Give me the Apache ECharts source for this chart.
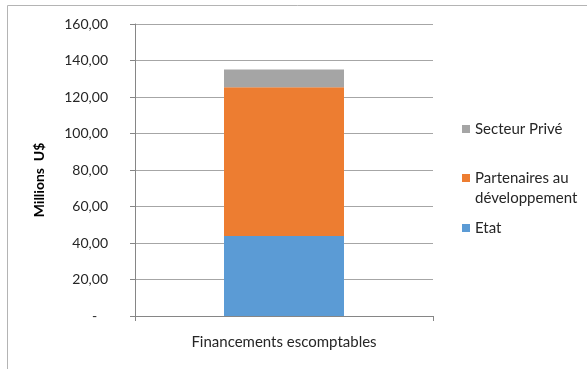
<!DOCTYPE html>
<html>
<head>
<meta charset="utf-8">
<script src="https://cdn.jsdelivr.net/npm/echarts@6/dist/echarts.min.js"></script>
<style>
  html, body { margin: 0; padding: 0; background: #ffffff; }
  #chart { width: 587px; height: 369px; }
</style>
</head>
<body>
<div id="chart"></div>
<script>
// Funding sources, in millions of US dollars
const categories = ['Financements escomptables'];
const etat = [43.8];
const partenaires = [81.5];
const secteurPrive = [9.8];
const yTicks = [0, 20, 40, 60, 80, 100, 120, 140, 160];

const FONT = 'Lato';
const TEXT = '#262626';

const chart = echarts.init(document.getElementById('chart'), null, { renderer: 'canvas' });

function fmtTick(v) {
  return v === 0 ? '-   ' : v.toFixed(2).replace('.', ',');
}

const legendBase = {
  orient: 'vertical',
  left: 457,
  itemWidth: 8,
  itemHeight: 8,
  itemGap: 0,
  icon: 'rect',
  selectedMode: false,
  textStyle: { fontFamily: FONT, fontSize: 15, color: TEXT, lineHeight: 20 }
};

chart.setOption({
  animation: false,
  color: ['#5B9BD5', '#ED7D31', '#A5A5A5'],
  graphic: [{
    type: 'rect',
    shape: { x: 7.5, y: 5.5, width: 700, height: 500 },
    style: { fill: 'none', stroke: '#b4b4b4', lineWidth: 1 },
    silent: true,
    z: -10
  }],
  grid: { left: 135, right: 154, top: 24, bottom: 53 },
  legend: [
    Object.assign({}, legendBase, { top: 114, data: ['Secteur Privé'] }),
    Object.assign({}, legendBase, {
      top: 143, data: ['Partenaires au développement'],
      // blank first line keeps the marker level with the first text line
      formatter: () => '\nPartenaires au\ndéveloppement'
    }),
    Object.assign({}, legendBase, { top: 213, data: ['Etat'] })
  ],
  xAxis: {
    type: 'category',
    data: categories,
    axisLine: { lineStyle: { color: '#868686', width: 1 } },
    axisTick: { show: true, length: 5, lineStyle: { color: '#868686' } },
    axisLabel: { fontFamily: FONT, fontSize: 15, color: TEXT, margin: 19 }
  },
  yAxis: {
    type: 'value',
    min: 0,
    max: 160,
    interval: 20,
    name: 'Millions  U$',
    nameLocation: 'middle',
    nameRotate: 90,
    nameGap: 89,
    nameTextStyle: {
      fontFamily: FONT, fontSize: 14, fontWeight: 'bold', color: '#000000',
      padding: [0, 20, 0, 0]
    },
    axisLine: { show: true, lineStyle: { color: '#868686', width: 1 } },
    axisTick: { show: true, length: 5, lineStyle: { color: '#868686' } },
    axisLabel: { fontFamily: FONT, fontSize: 14, color: TEXT, margin: 27, formatter: fmtTick },
    splitLine: { lineStyle: { color: '#a6a6a6', width: 1 } }
  },
  series: [
    { name: 'Etat', type: 'bar', stack: 'total', data: etat, barWidth: 120 },
    { name: 'Partenaires au développement', type: 'bar', stack: 'total', data: partenaires, barWidth: 120 },
    { name: 'Secteur Privé', type: 'bar', stack: 'total', data: secteurPrive, barWidth: 120 }
  ]
});
</script>
</body>
</html>
